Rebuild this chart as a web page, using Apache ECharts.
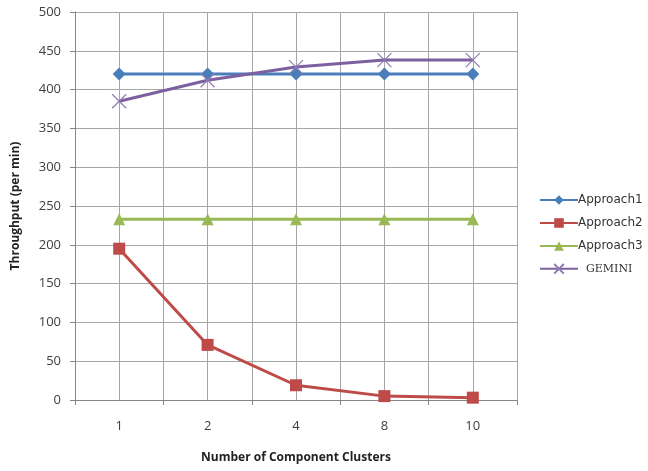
<!DOCTYPE html>
<html>
<head>
<meta charset="utf-8">
<script src="https://cdn.jsdelivr.net/npm/echarts@6/dist/echarts.min.js"></script>
<style>
  html, body { margin: 0; padding: 0; background: #fff; }
  #chart { width: 648px; height: 471px; }
</style>
</head>
<body>
<div id="chart"></div>
<script>
  const clusters = ['1', '2', '4', '8', '10']
  const approach1 = [420, 420, 420, 420, 420]
  const approach2 = [195, 71, 19, 5, 3]
  const approach3 = [233, 233, 233, 233, 233]
  const gemini = [385, 412, 429, 438, 438]

  const gridColor = '#a6a6a6'
  const labelColor = '#404040'
  const crossPath = 'path://M0,0L10,10M10,0L0,10'

  const myChart = echarts.init(document.getElementById('chart'))

  const lineSeries = (name, data, color, symbol, size, extra) => Object.assign({
    name,
    type: 'line',
    xAxisIndex: 0,
    data,
    symbol,
    symbolSize: size,
    showSymbol: true,
    lineStyle: { color, width: 3 },
    itemStyle: { color },
    z: 3
  }, extra || {})

  const option = {
    animation: false,
    grid: { left: 75, right: 131, top: 12, bottom: 71 },
    legend: {
      orient: 'vertical',
      left: 534,
      top: 189,
      itemGap: 11,
      itemWidth: 38,
      itemHeight: 12,
      textStyle: { color: '#333', fontSize: 12, fontFamily: 'DejaVu Sans', padding: [0, 0, 0, -5] },
      data: [
        { name: 'Approach1' },
        { name: 'Approach2' },
        { name: 'Approach3' },
        { name: 'GEMINI', textStyle: { fontFamily: 'DejaVu Serif', fontSize: 11, padding: [0, 0, 0, 3] } }
      ]
    },
    xAxis: [
      {
        type: 'category',
        data: clusters,
        boundaryGap: true,
        name: 'Number of Component Clusters',
        nameLocation: 'middle',
        nameGap: 52,
        nameTextStyle: { color: '#222', fontWeight: 'bold', fontSize: 12, fontFamily: 'Open Sans' },
        axisLine: { lineStyle: { color: '#868686', width: 1 } },
        axisTick: { show: true, length: 5, lineStyle: { color: '#868686' } },
        axisLabel: { color: labelColor, fontSize: 13, margin: 20, fontFamily: 'Open Sans' },
        splitLine: { show: false }
      },
      {
        type: 'value',
        min: 0,
        max: 10,
        interval: 1,
        position: 'bottom',
        show: true,
        axisLine: { show: false },
        axisTick: { show: false },
        axisLabel: { show: false },
        splitLine: { show: true, lineStyle: { color: gridColor, width: 1 } }
      }
    ],
    yAxis: {
      type: 'value',
      min: 0,
      max: 500,
      interval: 50,
      name: 'Throughput (per min)',
      nameLocation: 'middle',
      nameGap: 53,
      nameTextStyle: { color: '#222', fontWeight: 'bold', fontSize: 12, fontFamily: 'Open Sans' },
      axisLine: { show: true, lineStyle: { color: '#868686', width: 1 } },
      axisTick: { show: true, length: 5, lineStyle: { color: '#868686' } },
      axisLabel: { color: labelColor, fontSize: 13, margin: 14, fontFamily: 'Open Sans' },
      splitLine: { show: true, lineStyle: { color: gridColor, width: 1 } }
    },
    series: [
      lineSeries('Approach1', approach1, '#4a7ebb', 'diamond', 13),
      lineSeries('Approach2', approach2, '#be4b48', 'rect', 12),
      lineSeries('Approach3', approach3, '#98b954', 'triangle', 12),
      lineSeries('GEMINI', gemini, '#7d60a0', crossPath, 14, {
        itemStyle: { color: 'rgba(0,0,0,0)', borderColor: '#8e7bb0', borderWidth: 1.2 }
      })
    ]
  }

  option && myChart.setOption(option)
</script>
</body>
</html>
